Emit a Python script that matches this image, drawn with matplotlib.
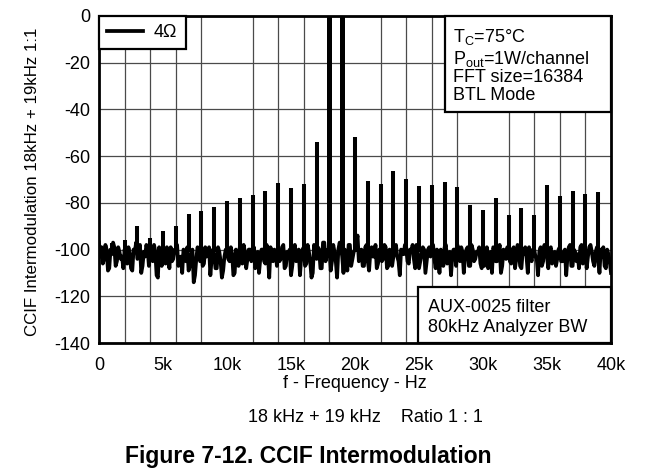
import matplotlib
matplotlib.use('Agg')
import matplotlib.pyplot as plt
import numpy as np
from matplotlib.patches import Rectangle

plt.rcParams['font.family'] = ['Liberation Sans', 'DejaVu Sans']
plt.rcParams['mathtext.default'] = 'regular'
plt.rcParams['axes.unicode_minus'] = False

# ---- data ----
# noise floor at 0.0, 0.2, 0.4 ... 40.0 kHz (dB)
noise_db = [
    -97, -99, -104, -100, -108, -102, -99, -105, -101, -103,
    -100, -106, -102, -109, -101, -104, -98, -107, -103, -100,
    -99, -105, -101, -112, -103, -100, -106, -102, -99, -104,
    -101, -107, -103, -100, -105, -109, -102, -114, -104, -101,
    -100, -106, -103, -99, -104, -102, -108, -101, -112, -103,
    -100, -105, -102, -110, -103, -99, -106, -101, -104, -100,
    -102, -108, -101, -104, -100, -106, -103, -99, -105, -101,
    -100, -104, -98, -107, -102, -111, -101, -105, -100, -103,
    -99, -106, -101, -112, -98, -104, -100, -108, -97, -102,
    -99, -105, -101, -112, -97, -103, -100, -109, -98, -104,
    -100, -94, -102, -107, -99, -105, -101, -103, -98, -106,
    -100, -104, -99, -107, -101, -103, -98, -105, -100, -102,
    -99, -106, -101, -104, -98, -108, -102, -100, -105, -99,
    -101, -104, -100, -110, -102, -99, -106, -101, -103, -100,
    -98, -105, -101, -103, -99, -107, -100, -104, -101, -106,
    -100, -103, -108, -101, -99, -105, -102, -110, -100, -104,
    -101, -106, -99, -104, -100, -108, -102, -103, -99, -105,
    -100, -104, -101, -107, -98, -103, -100, -106, -101, -104,
    -99, -105, -100, -103, -98, -107, -101, -102, -99, -106,
    -100, -103, -98, -105, -101, -104, -100, -99, -108, -102,
    -110,
]
# noise floor at the in-between bins 0.1, 0.3, 0.5 ... 39.9 kHz (dB)
noise_mid_db = [
    -103, -106, -98, -109, -100, -97, -107, -99, -104, -108,
    -105, -99, -108, -100, -97, -103, -110, -101, -98, -107,
    -104, -98, -111, -99, -107, -101, -99, -108, -105, -100,
    -98, -105, -110, -101, -99, -107, -100, -111, -99, -105,
    -107, -99, -101, -111, -100, -108, -99, -105, -109, -100,
    -104, -99, -111, -100, -107, -103, -98, -108, -100, -105,
    -99, -107, -110, -100, -105, -98, -112, -103, -100, -107,
    -105, -99, -108, -101, -100, -107, -98, -103, -111, -100,
    -107, -98, -105, -110, -101, -99, -108, -97, -105, -100,
    -109, -98, -105, -100, -99, -110, -103, -98, -107, -101,
    -97, -105, -100, -107, -98, -109, -99, -103, -108, -100,
    -105, -98, -108, -100, -107, -99, -103, -111, -101, -98,
    -105, -100, -98, -108, -101, -105, -99, -110, -100, -103,
    -98, -108, -103, -100, -107, -98, -105, -111, -100, -107,
    -103, -99, -110, -100, -107, -98, -105, -101, -99, -108,
    -107, -99, -103, -110, -100, -105, -98, -107, -101, -99,
    -105, -100, -108, -98, -107, -101, -99, -110, -103, -100,
    -103, -111, -99, -105, -101, -108, -99, -103, -107, -100,
    -105, -101, -111, -99, -107, -100, -105, -108, -98, -103,
    -108, -99, -101, -107, -99, -110, -103, -107, -100, -105,
]

# intermodulation / tone lines at every 1 kHz (kHz, dB)
spike_khz = [1, 2, 3, 4, 5, 6, 7, 8, 9, 10,
             11, 12, 13, 14, 15, 16, 17, 18, 19, 20,
             21, 22, 23, 24, 25, 26, 27, 28, 29, 30,
             31, 32, 33, 34, 35, 36, 37, 38, 39]
spike_db = [-97, -96, -90, -95, -92, -90, -84.7, -83.5, -81.8, -79.4,
            -78, -76.8, -75, -71.5, -73.7, -72.1, -54, 0, 0, -51.8,
            -70.8, -71.8, -66.4, -69.8, -72.7, -72.4, -71.2, -73.3, -80.8, -83,
            -78, -85.4, -82.4, -85, -72.5, -77.1, -74.8, -76.3, -75.4]

x_ticks = [0, 5000, 10000, 15000, 20000, 25000, 30000, 35000, 40000]
x_tick_labels = ['0', '5k', '10k', '15k', '20k', '25k', '30k', '35k', '40k']
y_ticks = [0, -20, -40, -60, -80, -100, -120, -140]

# ---- figure ----
W, H = 653, 471
fig = plt.figure(figsize=(W / 100, H / 100), dpi=100)
ax = fig.add_axes([99 / W, 1 - 343 / H, 512 / W, 327 / H])

# interleave the two noise sample sets into one trace
trace_db = []
for a, b in zip(noise_db[:-1], noise_mid_db):
    trace_db += [a, b]
trace_db.append(noise_db[-1])
trace_hz = np.linspace(0, 40000, len(trace_db))
ax.plot(trace_hz, trace_db, color='black', lw=2.7, zorder=3, label='4Ω')

spike_hz = np.array(spike_khz) * 1000
spike_arr = np.array(spike_db)
tall = spike_arr > -20
ax.vlines(spike_hz[~tall], -101, spike_arr[~tall], color='black', lw=2.9, zorder=3)
ax.vlines(spike_hz[tall], -101, spike_arr[tall] + 5, color='black', lw=3.6, zorder=3)

ax.set_xlim(0, 40000)
ax.set_ylim(-140, 0)
ax.set_xticks(x_ticks)
ax.set_xticklabels(x_tick_labels)
ax.set_xticks(np.arange(0, 40001, 2000), minor=True)
ax.set_yticks(y_ticks)
ax.tick_params(axis='both', which='both', length=0, labelsize=13)
ax.tick_params(axis='x', pad=10)
ax.tick_params(axis='y', pad=6)
ax.grid(False)
ax.xaxis.grid(True, which='minor', color='#4a4a4a', lw=0.9)
ax.yaxis.grid(True, which='major', color='#4a4a4a', lw=0.9)
ax.set_axisbelow(True)
for s in ax.spines.values():
    s.set_linewidth(2.0)
    s.set_color('black')

leg = ax.legend(loc='upper left', borderaxespad=0, fancybox=False, frameon=True,
                fontsize=13, handlelength=2.0, handletextpad=0.6,
                borderpad=0.45)
leg.get_frame().set_edgecolor('black')
leg.get_frame().set_linewidth(1.6)
leg.get_frame().set_alpha(1)
leg.set_zorder(6)

# top-right info box
ax.add_patch(Rectangle((0.676, 0.706), 0.324, 0.294, transform=ax.transAxes,
                       facecolor='white', edgecolor='black', lw=1.6, zorder=5, clip_on=False))
info = [(r'T$_{C}$=75°C', 0.9205), (r'P$_{out}$=1W/channel', 0.853),
        ('FFT size=16384', 0.798), ('BTL Mode', 0.743)]
for t, yy in info:
    ax.text(0.691, yy, t, transform=ax.transAxes, fontsize=13, ha='left', va='baseline', zorder=6)

# bottom-right filter box
ax.add_patch(Rectangle((0.623, 0.0), 0.377, 0.171, transform=ax.transAxes,
                       facecolor='white', edgecolor='black', lw=1.6, zorder=5, clip_on=False))
ax.text(0.643, 0.0957, 'AUX-0025 filter', transform=ax.transAxes, fontsize=13,
        ha='left', va='baseline', zorder=6)
ax.text(0.643, 0.0346, '80kHz Analyzer BW', transform=ax.transAxes, fontsize=13,
        ha='left', va='baseline', zorder=6)

fig.text(33 / W, 1 - 182 / H, 'CCIF Intermodulation 18kHz + 19kHz 1:1', rotation=90,
         ha='center', va='center', fontsize=12.2)
fig.text(355 / W, 1 - 383 / H, 'f - Frequency - Hz', ha='center', va='center', fontsize=13)
fig.text(365 / W, 1 - 418 / H, '18 kHz + 19 kHz    Ratio 1 : 1', ha='center', va='center', fontsize=13)
fig.text(308 / W, 1 - 457 / H, 'Figure 7-12. CCIF Intermodulation', ha='center', va='center',
         fontsize=16.5, fontweight='bold')

fig.savefig('out.png', dpi=100)
